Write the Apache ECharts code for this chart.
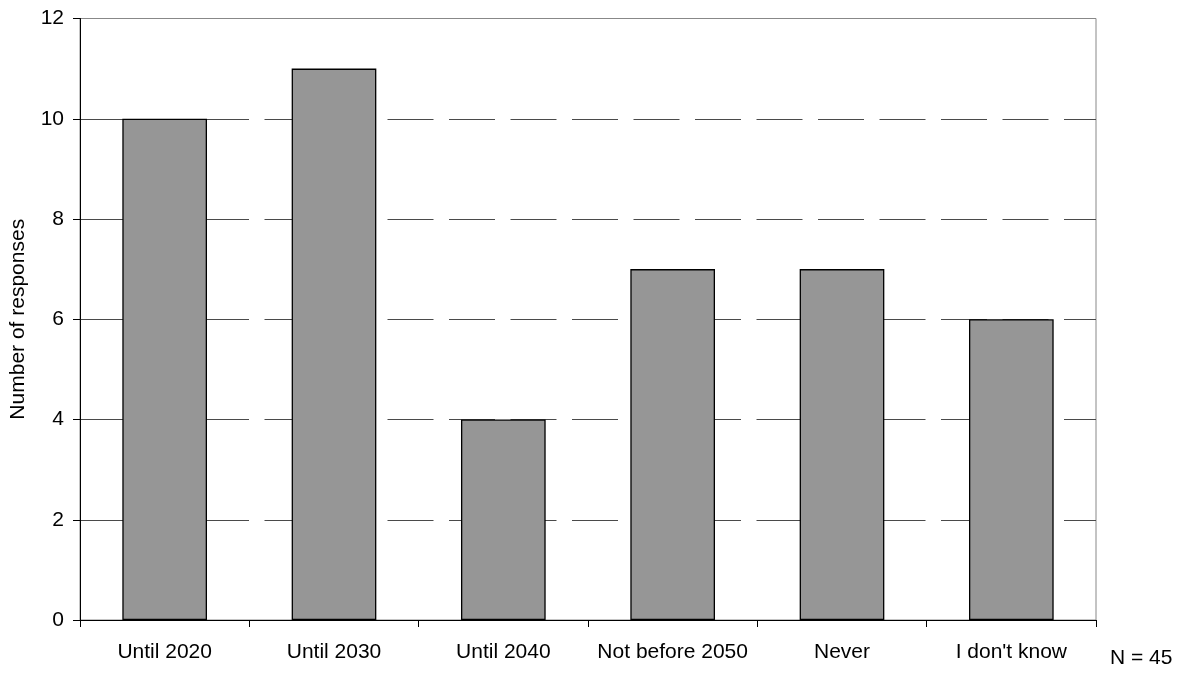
<!DOCTYPE html>
<html>
<head>
<meta charset="utf-8">
<script src="https://cdn.jsdelivr.net/npm/echarts@6/dist/echarts.min.js"></script>
<style>
html,body{margin:0;padding:0;background:#fff;}
#chart{width:1190px;height:675px;}
</style>
</head>
<body>
<div id="chart"></div>
<script>
const categories = ["Until 2020", "Until 2030", "Until 2040", "Not before 2050", "Never", "I don't know"];
const responses = [10, 11, 4, 7, 7, 6];
const yAxisTitle = "Number of responses";
const noteText = "N = 45";

const FONT = "'Liberation Sans', Arial, sans-serif";
const chart = echarts.init(document.getElementById('chart'), null, {renderer: 'canvas'});
chart.setOption({
  animation: false,
  backgroundColor: '#fff',
  title: {
    text: noteText,
    left: 1110,
    top: 648,
    padding: 0,
    textStyle: {fontFamily: FONT, fontSize: 21, fontWeight: 'normal', color: '#000'}
  },
  grid: {
    left: 80, right: 94, top: 18.5, bottom: 55,
    show: true, borderColor: '#888', borderWidth: 1, backgroundColor: 'transparent'
  },
  xAxis: {
    type: 'category',
    data: categories,
    axisLine: {lineStyle: {color: '#000', width: 1}},
    axisTick: {show: true, length: 7, lineStyle: {color: '#000'}},
    axisLabel: {margin: 22, interval: 0, fontFamily: FONT, fontSize: 21, color: '#000'},
    splitLine: {show: false}
  },
  yAxis: {
    type: 'value',
    min: 0, max: 12, interval: 2,
    name: yAxisTitle,
    nameLocation: 'middle',
    nameGap: 51,
    nameTextStyle: {fontFamily: FONT, fontSize: 21, color: '#000'},
    axisLine: {show: true, lineStyle: {color: '#000', width: 1}},
    axisTick: {show: true, length: 7, lineStyle: {color: '#000'}},
    axisLabel: {margin: 16, fontFamily: FONT, fontSize: 21, color: '#000'},
    splitLine: {show: true, showMinLine: false, showMaxLine: false,
      lineStyle: {color: '#4a4a4a', width: 1, type: [46, 15.5]}}
  },
  series: [{
    type: 'bar',
    data: responses,
    barCategoryGap: '50%',
    itemStyle: {color: '#969696', borderColor: '#000', borderWidth: 1.3}
  }]
});
</script>
</body>
</html>
